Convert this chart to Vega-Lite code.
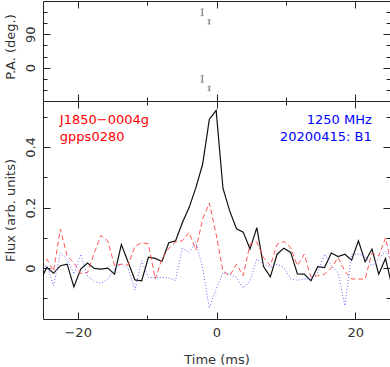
{
  "$schema": "https://vega.github.io/schema/vega-lite/v6.json",
  "padding": {"left": 3, "top": 0, "right": 0, "bottom": 0},
  "spacing": 0,
  "bounds": "flush",
  "config": {
    "view": {"stroke": "#222", "strokeWidth": 1},
    "font": "DejaVu Sans",
    "axis": {"grid": false, "domain": false, "tickColor": "#222", "tickWidth": 1, "labelFontSize": 13, "labelColor": "#333", "titleFontSize": 13, "titleFontWeight": "normal", "titleColor": "#333", "labelOverlap": false, "labelFlush": false, "format": "~r"}
  },
  "datasets": {
    "prof": [
      {"t": -25.43, "I": -0.043, "L": 0.01, "V": -0.02},
      {"t": -24.45, "I": 0.002, "L": 0.03, "V": 0.01},
      {"t": -23.48, "I": -0.017, "L": -0.01, "V": -0.058},
      {"t": -22.50, "I": 0.008, "L": 0.129, "V": 0.05},
      {"t": -21.52, "I": 0.013, "L": 0.04, "V": 0.03},
      {"t": -20.55, "I": -0.062, "L": 0.018, "V": -0.02},
      {"t": -19.57, "I": -0.003, "L": -0.018, "V": 0.046},
      {"t": -18.59, "I": 0.017, "L": -0.015, "V": -0.025},
      {"t": -17.62, "I": -0.001, "L": 0.05, "V": -0.045},
      {"t": -16.64, "I": -0.003, "L": 0.108, "V": -0.05},
      {"t": -15.67, "I": 0.000, "L": 0.09, "V": -0.036},
      {"t": -14.69, "I": -0.020, "L": 0.008, "V": -0.003},
      {"t": -13.71, "I": 0.078, "L": 0.013, "V": 0.013},
      {"t": -12.74, "I": 0.020, "L": 0.01, "V": 0.0},
      {"t": -11.76, "I": -0.039, "L": 0.072, "V": -0.072},
      {"t": -10.78, "I": -0.042, "L": 0.084, "V": 0.024},
      {"t": -9.81, "I": 0.036, "L": 0.08, "V": -0.031},
      {"t": -8.83, "I": 0.032, "L": -0.036, "V": -0.031},
      {"t": -7.86, "I": 0.022, "L": 0.03, "V": -0.031},
      {"t": -6.88, "I": 0.084, "L": 0.065, "V": -0.033},
      {"t": -5.90, "I": 0.090, "L": 0.086, "V": -0.041},
      {"t": -4.93, "I": 0.150, "L": 0.09, "V": 0.066},
      {"t": -3.95, "I": 0.200, "L": 0.118, "V": 0.052},
      {"t": -2.98, "I": 0.265, "L": 0.06, "V": 0.087},
      {"t": -2.00, "I": 0.343, "L": 0.162, "V": 0.0},
      {"t": -1.03, "I": 0.492, "L": 0.215, "V": -0.132},
      {"t": -0.05, "I": 0.521, "L": 0.112, "V": -0.07},
      {"t": 0.93, "I": 0.264, "L": -0.01, "V": -0.015},
      {"t": 1.90, "I": 0.189, "L": -0.025, "V": -0.02},
      {"t": 2.88, "I": 0.130, "L": 0.013, "V": -0.031},
      {"t": 3.85, "I": 0.119, "L": -0.025, "V": -0.066},
      {"t": 4.83, "I": 0.063, "L": 0.08, "V": -0.042},
      {"t": 5.81, "I": 0.134, "L": 0.086, "V": 0.03},
      {"t": 6.78, "I": 0.005, "L": 0.035, "V": 0.013},
      {"t": 7.76, "I": -0.029, "L": 0.008, "V": 0.002},
      {"t": 8.73, "I": 0.046, "L": 0.079, "V": 0.013},
      {"t": 9.71, "I": 0.066, "L": 0.088, "V": 0.002},
      {"t": 10.69, "I": 0.052, "L": 0.068, "V": -0.036},
      {"t": 11.66, "I": -0.019, "L": 0.008, "V": -0.04},
      {"t": 12.64, "I": -0.020, "L": 0.046, "V": -0.036},
      {"t": 13.61, "I": -0.042, "L": -0.03, "V": -0.036},
      {"t": 14.59, "I": 0.005, "L": -0.025, "V": -0.015},
      {"t": 15.57, "I": 0.002, "L": -0.02, "V": 0.046},
      {"t": 16.54, "I": 0.050, "L": 0.0, "V": 0.008},
      {"t": 17.52, "I": 0.038, "L": 0.035, "V": -0.015},
      {"t": 18.50, "I": 0.046, "L": -0.01, "V": -0.124},
      {"t": 19.47, "I": 0.026, "L": -0.036, "V": 0.046},
      {"t": 20.45, "I": 0.090, "L": -0.036, "V": 0.046},
      {"t": 21.42, "I": 0.021, "L": -0.036, "V": 0.04},
      {"t": 22.40, "I": 0.063, "L": 0.05, "V": 0.008},
      {"t": 23.38, "I": -0.020, "L": 0.04, "V": 0.03},
      {"t": 24.35, "I": 0.032, "L": 0.1, "V": 0.056},
      {"t": 25.33, "I": -0.065, "L": 0.0, "V": 0.02}
    ],
    "pa": [
      {"t": -2.05, "pa": -30.5, "lo": -39.5, "hi": -21.5},
      {"t": -2.05, "pa": 149.5, "lo": 140.5, "hi": 158.5},
      {"t": -1.05, "pa": -56.2, "lo": -62.2, "hi": -50.2},
      {"t": -1.05, "pa": 123.8, "lo": 117.8, "hi": 129.8}
    ],
    "notesL": [
      {"t": -22.57, "f": 0.477, "label": "J1850−0004g"},
      {"t": -22.57, "f": 0.42, "label": "gpps0280"}
    ],
    "notesR": [
      {"t": 22.37, "f": 0.477, "label": "1250 MHz"},
      {"t": 22.37, "f": 0.42, "label": "20200415: B1"}
    ]
  },
  "vconcat": [
    {
      "width": 347,
      "height": 100,
      "data": {"name": "pa"},
      "layer": [
        {
          "mark": {"type": "rule", "color": "#888", "strokeWidth": 1},
          "encoding": {
            "x": {"field": "t", "type": "quantitative", "scale": {"domain": [-25, 25], "nice": false, "zero": false},
                  "axis": {"orient": "bottom", "values": [-20, 0, 20], "tickSize": -7, "labels": false, "title": null}},
            "y": {"field": "lo", "type": "quantitative", "scale": {"domain": [-90, 180], "nice": false, "zero": false},
                  "axis": {"orient": "left", "values": [0, 90], "tickSize": -7, "labelAngle": -90, "labelAlign": "center", "labelBaseline": "alphabetic", "labelPadding": 15.7,
                           "title": "P.A. (deg.)", "titleX": -28.5, "titleY": 45.5, "titleAngle": -90, "titleAlign": "center", "titleBaseline": "alphabetic"}},
            "y2": {"field": "hi"}
          }
        },
        {
          "mark": {"type": "tick", "orient": "horizontal", "size": 3.5, "thickness": 1, "color": "#888"},
          "encoding": {
            "x": {"field": "t", "type": "quantitative", "axis": {"orient": "bottom", "values": [-10, 10], "tickSize": -4, "labels": false, "title": null}},
            "y": {"field": "lo", "type": "quantitative", "axis": {"orient": "left", "values": [-60, -30, 30, 60, 120, 150], "tickSize": -4, "labels": false, "title": null}}
          }
        },
        {
          "mark": {"type": "tick", "orient": "horizontal", "size": 3.5, "thickness": 1, "color": "#888"},
          "encoding": {
            "x": {"field": "t", "type": "quantitative", "axis": {"orient": "top", "values": [-20, 0, 20], "tickSize": -7, "labels": false, "title": null}},
            "y": {"field": "hi", "type": "quantitative", "axis": {"orient": "right", "values": [0, 90], "tickSize": -7, "labels": false, "title": null}}
          }
        },
        {
          "mark": {"type": "rule", "color": "#888", "strokeWidth": 1},
          "encoding": {
            "x": {"field": "t", "type": "quantitative", "axis": {"orient": "top", "values": [-10, 10], "tickSize": -4, "labels": false, "title": null}},
            "y": {"field": "lo", "type": "quantitative", "axis": {"orient": "right", "values": [-60, -30, 30, 60, 120, 150], "tickSize": -4, "labels": false, "title": null}},
            "y2": {"field": "hi"}
          }
        }
      ],
      "resolve": {"axis": {"x": "independent", "y": "independent"}}
    },
    {
      "width": 347,
      "height": 218,
      "layer": [
        {
          "data": {"name": "prof"},
          "mark": {"type": "line", "color": "#111", "strokeWidth": 1.2, "clip": true},
          "encoding": {
            "x": {"field": "t", "type": "quantitative", "scale": {"domain": [-25, 25], "nice": false, "zero": false},
                  "axis": {"orient": "bottom", "values": [-20, 0, 20], "tickSize": -7, "labelPadding": 24.7, "labelBaseline": "alphabetic",
                           "title": "Time (ms)", "titleX": 173.5, "titleY": 44.5, "titleBaseline": "alphabetic", "titleAlign": "center"}},
            "y": {"field": "I", "type": "quantitative", "scale": {"domain": [-0.168, 0.552], "nice": false, "zero": false},
                  "axis": {"orient": "left", "values": [0, 0.2, 0.4], "tickSize": -7, "labelAngle": -90, "labelAlign": "center", "labelBaseline": "alphabetic", "labelPadding": 15.7,
                           "title": "Flux (arb. units)", "titleX": -28.5, "titleY": 109, "titleAngle": -90, "titleAlign": "center", "titleBaseline": "alphabetic"}}
          }
        },
        {
          "data": {"name": "prof"},
          "mark": {"type": "line", "color": "#ff5555", "strokeWidth": 1, "strokeDash": [5, 3], "clip": true},
          "encoding": {
            "x": {"field": "t", "type": "quantitative", "axis": {"orient": "bottom", "values": [-10, 10], "tickSize": -4, "labels": false, "title": null}},
            "y": {"field": "L", "type": "quantitative", "axis": {"orient": "left", "values": [-0.1, 0.1, 0.3, 0.5], "tickSize": -4, "labels": false, "title": null}}
          }
        },
        {
          "data": {"name": "prof"},
          "mark": {"type": "line", "color": "#6666ff", "strokeWidth": 1, "strokeDash": [1, 2], "clip": true},
          "encoding": {
            "x": {"field": "t", "type": "quantitative", "axis": {"orient": "top", "values": [-20, 0, 20], "tickSize": -7, "labels": false, "title": null}},
            "y": {"field": "V", "type": "quantitative", "axis": {"orient": "right", "values": [0, 0.2, 0.4], "tickSize": -7, "labels": false, "title": null}}
          }
        },
        {
          "data": {"name": "notesL"},
          "mark": {"type": "text", "color": "#ff0000", "fontSize": 13, "align": "left", "baseline": "alphabetic"},
          "encoding": {
            "x": {"field": "t", "type": "quantitative", "axis": {"orient": "top", "values": [-10, 10], "tickSize": -4, "labels": false, "title": null}},
            "y": {"field": "f", "type": "quantitative", "axis": {"orient": "right", "values": [-0.1, 0.1, 0.3, 0.5], "tickSize": -4, "labels": false, "title": null}},
            "text": {"field": "label"}
          }
        },
        {
          "data": {"name": "notesR"},
          "mark": {"type": "text", "color": "#0000ff", "fontSize": 13, "align": "right", "baseline": "alphabetic"},
          "encoding": {
            "x": {"field": "t", "type": "quantitative", "axis": null},
            "y": {"field": "f", "type": "quantitative", "axis": null},
            "text": {"field": "label"}
          }
        }
      ],
      "resolve": {"axis": {"x": "independent", "y": "independent"}}
    }
  ]
}
